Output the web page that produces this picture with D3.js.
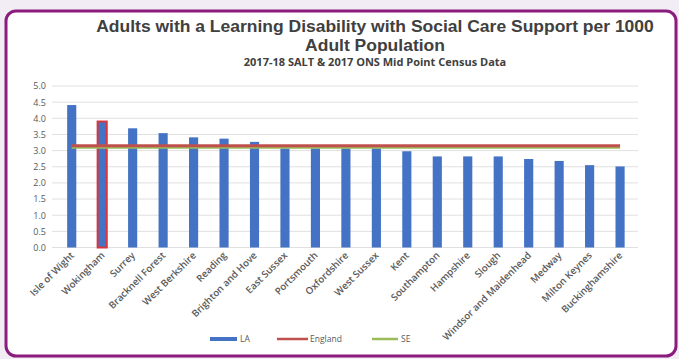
<!DOCTYPE html>
<html><head><meta charset="utf-8">
<script src="https://cdn.jsdelivr.net/npm/d3@7"></script>
<style>
html,body{margin:0;padding:0;background:#f2edf4;}
svg{display:block;}
text{font-family:"Open Sans","Liberation Sans",sans-serif;}
</style></head>
<body><svg id="c" width="679" height="359"></svg>
<script>
const categories = ["Isle of Wight","Wokingham","Surrey","Bracknell Forest","West Berkshire","Reading","Brighton and Hove","East Sussex","Portsmouth","Oxfordshire","West Sussex","Kent","Southampton","Hampshire","Slough","Windsor and Maidenhead","Medway","Milton Keynes","Buckinghamshire"];
const laValues = [4.41,3.90,3.69,3.54,3.41,3.37,3.27,3.07,3.07,3.07,3.07,2.98,2.82,2.82,2.82,2.74,2.68,2.55,2.51];
const englandValue = 3.15;
const seValue = 3.10;
const highlight = "Wokingham";
const yTicks = [0,0.5,1,1.5,2,2.5,3,3.5,4,4.5,5];
const titleLines = ["Adults with a Learning Disability with Social Care Support per 1000","Adult Population"];
const subtitle = "2017-18 SALT & 2017 ONS Mid Point Census Data";
const legendItems = [{name:"LA",color:"#4472c4"},{name:"England",color:"#c0504d"},{name:"SE",color:"#9bbb59"}];

const svg = d3.select("#c");
svg.append("rect").attr("x",6).attr("y",11).attr("width",670).attr("height",345)
  .attr("rx",10).attr("fill","#ffffff").attr("stroke","#8b1c7e").attr("stroke-width",3);

const x = d3.scaleBand().domain(categories).range([56.5,635.3]).paddingInner(0.7).paddingOuter(0.35);
const y = d3.scaleLinear().domain([0,5]).range([247.5,86]);

// gridlines
svg.append("g").selectAll("line").data(yTicks).join("line")
  .attr("x1",52).attr("x2",638).attr("y1",d=>y(d)).attr("y2",d=>y(d))
  .attr("stroke","#e0e0e0").attr("stroke-width",1);

// y axis labels
const yAxis = d3.axisLeft(y).tickValues(yTicks).tickFormat(d3.format(".1f")).tickSize(0).tickPadding(0);
const ya = svg.append("g").attr("transform","translate(46,0)").call(yAxis);
ya.select(".domain").remove();
ya.selectAll("text").attr("fill","#595959").style("font-size","9px").style("font-family","'Open Sans',sans-serif");

// bars
const cx = d => x(d)+x.bandwidth()/2;
svg.append("g").selectAll("rect").data(categories).join("rect")
  .attr("x",d=>x(d)).attr("width",x.bandwidth())
  .attr("y",(d,i)=>y(laValues[i])).attr("height",(d,i)=>y(0)-y(laValues[i]))
  .attr("fill","#4472c4")
  .attr("stroke",d=>d===highlight?"#d9363e":"none")
  .attr("stroke-width",2);

// lines
const lineGen = d3.line().x(d=>cx(d[0])).y(d=>y(d[1]));
svg.append("path").datum(categories.map(c=>[c,seValue])).attr("d",lineGen)
  .attr("stroke","#9bbb59").attr("stroke-width",3).attr("fill","none");
svg.append("path").datum(categories.map(c=>[c,englandValue])).attr("d",lineGen)
  .attr("stroke","#c0504d").attr("stroke-width",3).attr("fill","none");

// x labels
svg.append("g").selectAll("text").data(categories).join("text")
  .attr("transform",d=>`translate(${cx(d)+3},${256}) rotate(-45)`)
  .attr("text-anchor","end").attr("fill","#595959")
  .style("font-size","9.7px").style("font-weight","600")
  .text(d=>d);

// titles (Liberation Sans bold, stretched horizontally to the reference width)
const tg = svg.append("g");
const tLines = tg.selectAll("text").data(titleLines).join("text")
  .attr("x",0).attr("y",0).attr("text-anchor","middle")
  .style("font-family","'Liberation Sans',Arial,sans-serif")
  .style("font-size","16px").style("font-weight","bold").attr("fill","#404040")
  .text(d=>d);
const w0 = tLines.nodes()[0].getComputedTextLength();
const sx = 558 / w0;
tLines.attr("transform",(d,i)=>`translate(375,${i===0?32:51}) scale(${sx},1)`);

svg.append("text").attr("x",375).attr("y",66).attr("text-anchor","middle")
  .style("font-size","11px").style("font-weight","bold").attr("fill","#404040")
  .text(subtitle);

// legend
const legX = [210,277,372];
const lg = svg.append("g").selectAll("g").data(legendItems).join("g")
  .attr("transform",(d,i)=>`translate(${legX[i]},339)`);
lg.append("line").attr("x1",0).attr("x2",(d,i)=>i===0?27:(i===1?31:26)).attr("y1",0).attr("y2",0)
  .attr("stroke",d=>d.color).attr("stroke-width",(d,i)=>i===0?4:2.5);
lg.append("text").attr("x",(d,i)=>i===0?30:(i===1?33:29)).attr("y",3)
  .style("font-size","8.5px").attr("fill","#595959").text(d=>d.name);
</script></body></html>
